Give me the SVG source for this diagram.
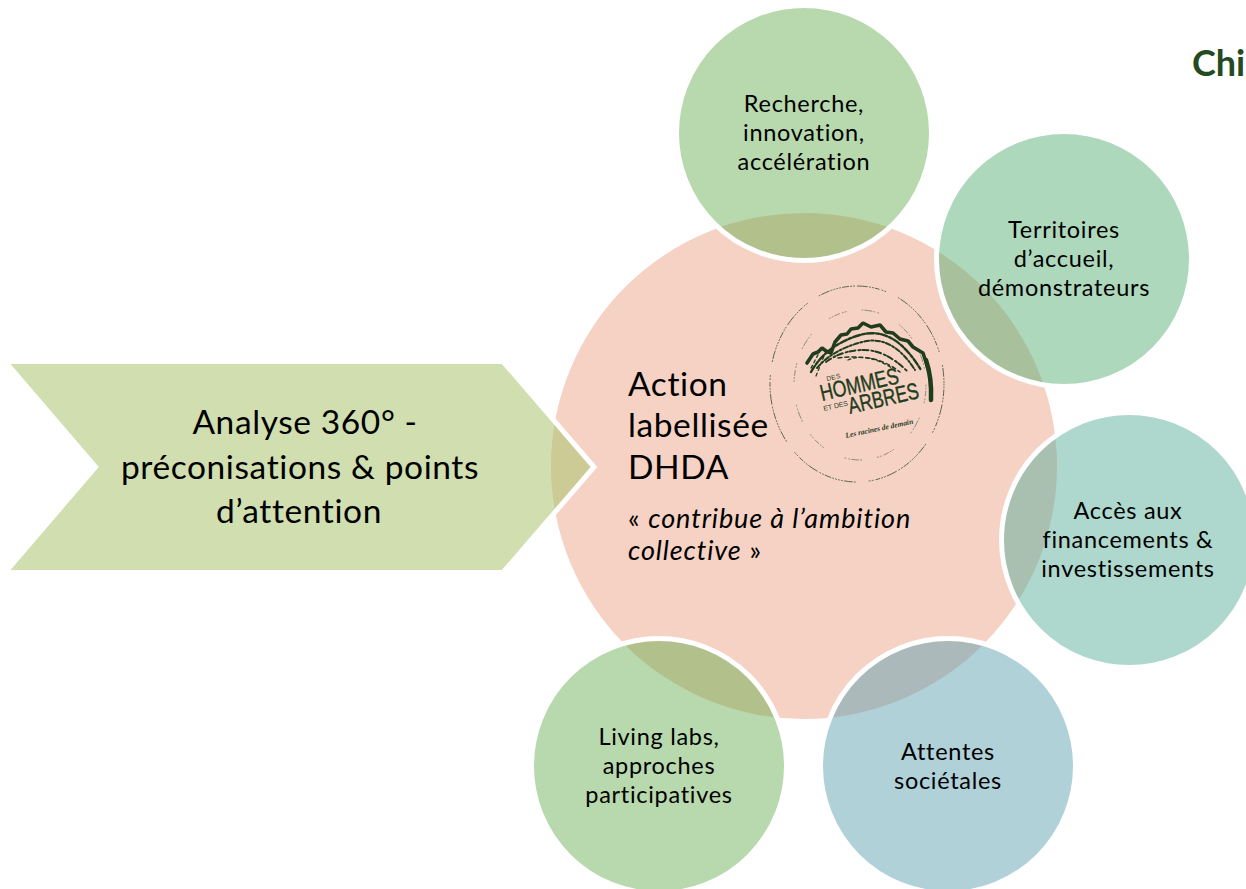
<svg xmlns="http://www.w3.org/2000/svg" width="1246" height="889" viewBox="0 0 1246 889">
<style>
text{font-family:Lato,"Liberation Sans",sans-serif;fill:#000;font-variant-ligatures:none}
.s{font-size:23.5px;letter-spacing:.7px;text-anchor:middle}
.l{font-size:33.500px;letter-spacing:.6px}
.q{font-size:27px;letter-spacing:.9px}
.bub{stroke:#fff;stroke-width:5}
.lg{fill:none;stroke:#1f3d1d;stroke-linecap:round}
.lt{fill:#1f3d1d;font-family:"Liberation Sans",sans-serif;letter-spacing:0}
</style>
<rect width="1246" height="889" fill="#fff"/>
<text x="1192" y="76" style="font-size:36px;font-weight:700;fill:#254a22">Chi</text>
<g id="center">
<circle cx="804" cy="466" r="253" fill="#f6d2c4"/>
<text class="l" x="628" y="396">Action</text>
<text class="l" x="628" y="437">labellisée</text>
<text class="l" x="628" y="479">DHDA</text>
<text class="q" x="628" y="528">« <tspan font-style="italic">contribue à l’ambition</tspan></text>
<text class="q" x="628" y="560"><tspan font-style="italic">collective</tspan> »</text>
</g>
<g id="logo">
<ellipse class="lg" cx="857" cy="384" rx="87" ry="98" stroke-width=".9" opacity=".8" stroke-dasharray="1 2 1 2 6 2 1 2 1 3 10 2 1 2 1 2 4 3 1 2 1 14 1 2 8 2 1 2 1 2"/>
<ellipse class="lg" cx="860" cy="385" rx="66" ry="75" stroke-width=".8" opacity=".6" stroke-dasharray="1 2 1 2 5 3 1 2 1 16 1 2 7 2 1 3 1 24"/>
<path class="lg" stroke-width="3.600" stroke-linejoin="bevel" d="M807 363L813 354L818 352L822 348L826 351L831 353L835 342L841 335L847 334L851 329L858 328L863 323L871 327L880 325L886 332L893 333L900 339L908 341L913 347L923 353L926 362L929 372"/>
<path class="lg" stroke-width="4.500" d="M926 360Q932 378 931 400"/>
<path class="lg" stroke-width="2.400" stroke-dasharray="7 2 3 2" d="M811 372Q826 345 860 335T921 370"/>
<path class="lg" stroke-width="2" stroke-dasharray="5 2 2 2" d="M817 368Q832 350 862 342T915 370"/>
<path class="lg" stroke-width="2" stroke-dasharray="6 3 2 2" d="M826 362Q842 350 864 350T908 372"/>
<path class="lg" stroke-width="1.500" stroke-dasharray="4 3" d="M838 358Q852 356 868 358T900 372"/>
<path class="lg" stroke-width="1.300" stroke-dasharray="3 3" d="M816 376L824 356M811 368L820 351M848 360Q866 352 892 368"/>
<text class="lt" transform="translate(827 381) rotate(-13)" font-size="6.500" textLength="14">DES</text>
<text class="lt" transform="translate(822 401) rotate(-13)" font-size="23" textLength="80" lengthAdjust="spacingAndGlyphs" stroke="#1f3d1d" stroke-width=".4">HOMMES</text>
<text class="lt" transform="translate(824 411) rotate(-13)" font-size="7" textLength="25">ET DES</text>
<text class="lt" transform="translate(850 414) rotate(-13)" font-size="23" textLength="72" lengthAdjust="spacingAndGlyphs" stroke="#1f3d1d" stroke-width=".4">ARBRES</text>
<text class="lt" transform="translate(846 438) rotate(-12)" style="font-family:'Liberation Serif',serif;font-style:italic;font-weight:700" font-size="7.500" textLength="69">Les racines de demain</text>
</g>
<g id="arrow">
<path class="bub" d="M5 361.500H503L594 467L503 572.500H5L95.500 467Z" fill="#a9c26f" fill-opacity=".55"/>
<text class="l" text-anchor="middle" x="305" y="434">Analyse 360° -</text>
<text class="l" text-anchor="middle" x="300" y="479">préconisations &amp; points</text>
<text class="l" text-anchor="middle" x="299" y="523">d’attention</text>
</g>
<g id="recherche">
<circle class="bub" cx="804" cy="133" r="127.500" fill="#5fab49" fill-opacity=".45"/>
<text class="s" x="804" y="112">Recherche,</text><text class="s" x="804" y="141">innovation,</text><text class="s" x="804" y="170">accélération</text>
</g>
<g id="territoires">
<circle class="bub" cx="1064" cy="259" r="127.500" fill="#55ad74" fill-opacity=".48"/>
<text class="s" x="1064" y="238">Territoires</text><text class="s" x="1064" y="267">d’accueil,</text><text class="s" x="1064" y="296">démonstrateurs</text>
</g>
<g id="acces">
<circle class="bub" cx="1129" cy="540" r="127.500" fill="#55ab98" fill-opacity=".48"/>
<text class="s" x="1128" y="519">Accès aux</text><text class="s" x="1128" y="548">financements &amp;</text><text class="s" x="1128" y="577">investissements</text>
</g>
<g id="attentes">
<circle class="bub" cx="948" cy="766" r="127.500" fill="#5c9fb0" fill-opacity=".48"/>
<text class="s" x="948" y="760">Attentes</text><text class="s" x="948" y="789">sociétales</text>
</g>
<g id="living">
<circle class="bub" cx="659" cy="766" r="127.500" fill="#5fab49" fill-opacity=".45"/>
<text class="s" x="659" y="745">Living labs,</text><text class="s" x="659" y="774">approches</text><text class="s" x="659" y="803">participatives</text>
</g>
<g id="connectors"></g>
</svg>
